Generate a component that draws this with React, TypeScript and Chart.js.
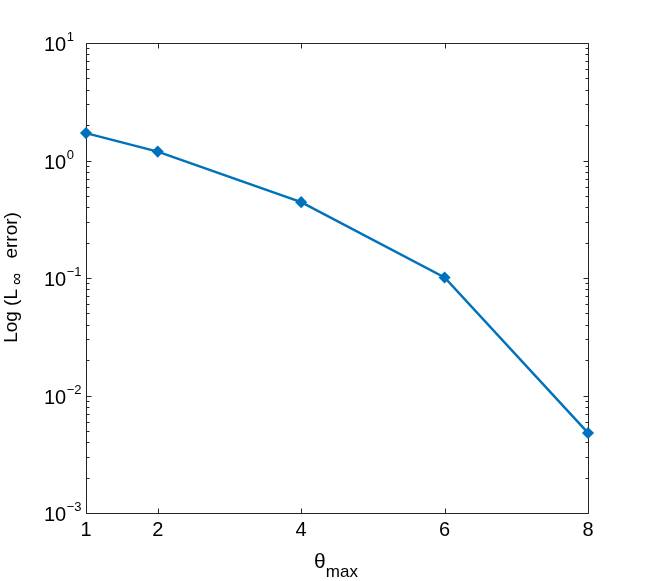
import React, { useEffect, useRef } from "react";
import { Chart, registerables } from "chart.js";

Chart.register(...registerables);

const thetaMax = [1, 2, 4, 6, 8];
const linfError = [1.71, 1.19, 0.442, 0.101, 0.0048];
const xTicks = [1, 2, 4, 6, 8];
const yExponents = [-3, -2, -1, 0, 1];

const FONT = '"Liberation Sans", Arial, Helvetica, sans-serif';
const AXIS = "#262626";
const LINE = "#0072BD";

const axesPlugin = {
  id: "matlabAxes",
  beforeDatasetsDraw(chart: any) {
    const ctx = chart.ctx as CanvasRenderingContext2D;
    const xs = chart.scales.x;
    const ys = chart.scales.y;
    const { left, right, top, bottom } = chart.chartArea;
    const L = Math.round(left) + 0.5;
    const R = Math.round(right) + 0.5;
    const T = Math.round(top) + 0.5;
    const B = Math.round(bottom) + 0.5;
    ctx.save();
    ctx.strokeStyle = AXIS;
    ctx.lineWidth = 1;
    ctx.beginPath();
    ctx.moveTo(L, T);
    ctx.lineTo(R, T);
    ctx.lineTo(R, B);
    ctx.lineTo(L, B);
    ctx.closePath();
    ctx.stroke();

    // x ticks (inward, top and bottom)
    ctx.beginPath();
    for (const v of xTicks) {
      const px = Math.round(xs.getPixelForValue(v)) + 0.5;
      ctx.moveTo(px, B);
      ctx.lineTo(px, B - 5);
      ctx.moveTo(px, T);
      ctx.lineTo(px, T + 5);
    }
    // y ticks major + minor (inward, left and right)
    for (const e of yExponents) {
      const py = Math.round(ys.getPixelForValue(Math.pow(10, e))) + 0.5;
      ctx.moveTo(L, py);
      ctx.lineTo(L + 5, py);
      ctx.moveTo(R, py);
      ctx.lineTo(R - 5, py);
      if (e < 1) {
        for (let d = 2; d <= 9; d++) {
          const pm = Math.round(ys.getPixelForValue(d * Math.pow(10, e))) + 0.5;
          ctx.moveTo(L, pm);
          ctx.lineTo(L + 3, pm);
          ctx.moveTo(R, pm);
          ctx.lineTo(R - 3, pm);
        }
      }
    }
    ctx.stroke();

    // tick labels
    ctx.fillStyle = "#000";
    ctx.font = `20px ${FONT}`;
    ctx.textAlign = "center";
    ctx.textBaseline = "alphabetic";
    for (const v of xTicks) {
      const px = xs.getPixelForValue(v);
      ctx.fillText(String(v), px, B + 22);
    }
    for (const e of yExponents) {
      const py = ys.getPixelForValue(Math.pow(10, e));
      ctx.textAlign = "left";
      ctx.font = `20px ${FONT}`;
      ctx.fillText("10", 44, py + 8);
      const w = ctx.measureText("10").width;
      ctx.font = `13px ${FONT}`;
      const exp = e < 0 ? "\u2212" + String(-e) : String(e);
      ctx.fillText(exp, 44 + w + 0.5, py - 2);
    }

    // x title: θ_max
    const cx = (left + right) / 2;
    ctx.textAlign = "left";
    ctx.font = `21px ${FONT}`;
    const thW = ctx.measureText("\u03B8").width;
    ctx.font = `17px ${FONT}`;
    const mW = ctx.measureText("max").width;
    const start = cx - (thW + mW) / 2 - 1;
    ctx.font = `21px ${FONT}`;
    ctx.fillText("\u03B8", start, 568);
    ctx.font = `17px ${FONT}`;
    ctx.fillText("max", start + thW, 577);

    // y title: Log (L_∞ error)
    const cy = 277.5;
    ctx.translate(17, cy);
    ctx.rotate(-Math.PI / 2);
    const p1 = "Log (L";
    const p2 = "\u221E";
    const p3 = " error)";
    ctx.font = `19px ${FONT}`;
    const w1 = ctx.measureText(p1).width;
    const w3 = ctx.measureText(p3).width;
    ctx.font = `17px ${FONT}`;
    const w2 = ctx.measureText(p2).width;
    const gapA = 4;
    const gapB = 9;
    const total = w1 + gapA + w2 + gapB + w3;
    let x0 = -total / 2;
    ctx.font = `19px ${FONT}`;
    ctx.fillText(p1, x0, 0);
    x0 += w1 + gapA;
    ctx.font = `17px ${FONT}`;
    ctx.fillText(p2, x0, 5);
    x0 += w2 + gapB;
    ctx.font = `19px ${FONT}`;
    ctx.fillText(p3, x0, 0);
    ctx.restore();
  },
};

export default function App() {
  const ref = useRef<HTMLCanvasElement | null>(null);
  useEffect(() => {
    if (!ref.current) return;
    const chart = new Chart(ref.current, {
      type: "line",
      data: {
        datasets: [
          {
            data: thetaMax.map((x, i) => ({ x, y: linfError[i] })),
            borderColor: LINE,
            backgroundColor: LINE,
            borderWidth: 2.5,
            pointStyle: "rectRot",
            pointRadius: 5,
            pointBorderWidth: 1.5,
            pointBackgroundColor: LINE,
            pointBorderColor: LINE,
            tension: 0,
            clip: false as any,
          },
        ],
      },
      options: {
        animation: false,
        responsive: false,
        events: [],
        layout: { padding: { left: 86, right: 61, top: 43, bottom: 68 } },
        plugins: { legend: { display: false }, tooltip: { enabled: false } },
        scales: {
          x: {
            type: "linear",
            min: 1,
            max: 8,
            ticks: { display: false },
            grid: { display: false },
            border: { display: false },
            afterFit: (s: any) => {
              s.height = 0;
            },
          },
          y: {
            type: "logarithmic",
            min: 0.001,
            max: 10,
            ticks: { display: false },
            grid: { display: false },
            border: { display: false },
            afterFit: (s: any) => {
              s.width = 0;
            },
          },
        },
      },
      plugins: [axesPlugin],
    });
    return () => chart.destroy();
  }, []);
  return (
    <div style={{ position: "fixed", left: 0, top: 0, width: 649, height: 581, background: "#fff" }}>
      <canvas ref={ref} width={649} height={581} style={{ width: 649, height: 581 }} />
    </div>
  );
}
